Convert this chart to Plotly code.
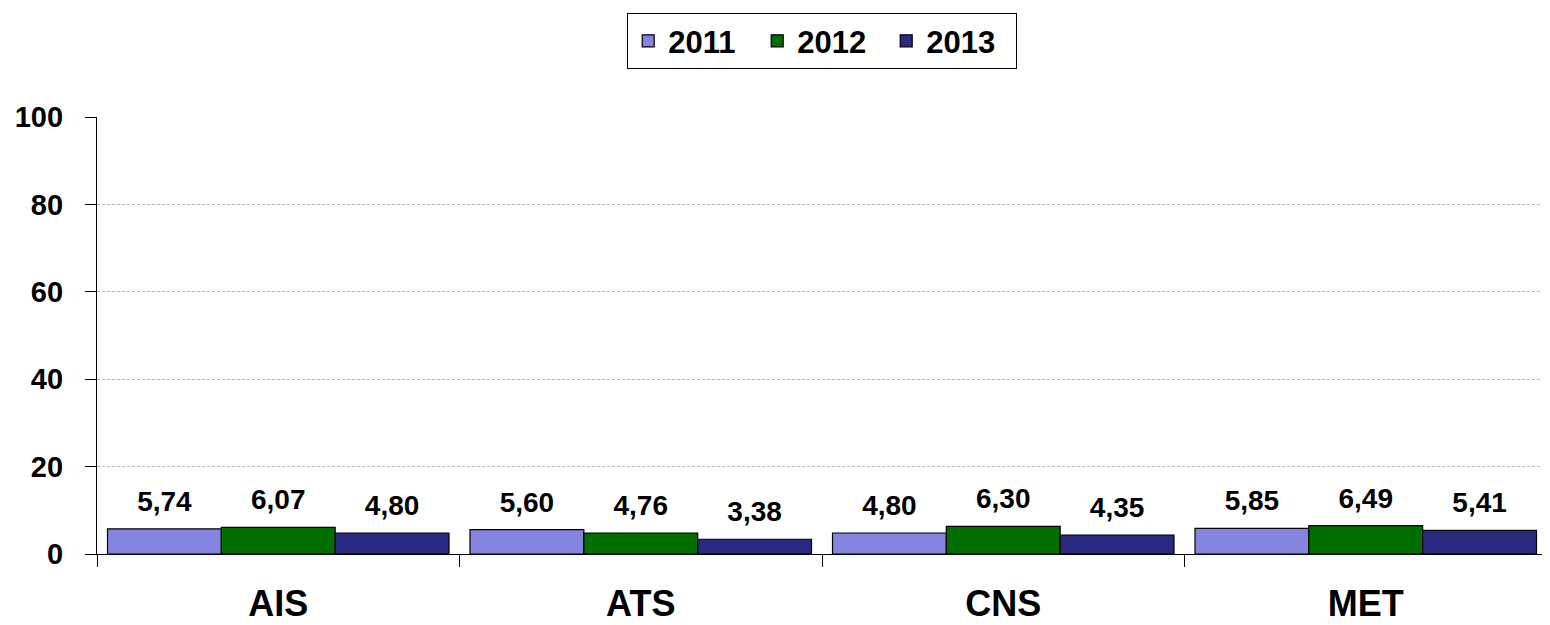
import plotly.graph_objects as go

categories = ["AIS", "ATS", "CNS", "MET"]
years = ["2011", "2012", "2013"]
v2011 = [5.74, 5.60, 4.80, 5.85]
v2012 = [6.07, 4.76, 6.30, 6.49]
v2013 = [4.80, 3.38, 4.35, 5.41]
series = [v2011, v2012, v2013]
colors = ["#8585e0", "#006e00", "#2a2a80"]
y_ticks = [0, 20, 40, 60, 80, 100]

FONT = "Liberation Sans, Arial, sans-serif"

def fmt(v):
    return f"{v:.2f}".replace(".", ",")

fig = go.Figure()
for name, vals, col in zip(years, series, colors):
    fig.add_trace(go.Bar(
        x=categories, y=vals, name=name, offsetgroup=name,
        marker=dict(color=col, line=dict(color="black", width=1.2)),
        hoverinfo="skip",
    ))
for name, vals in zip(years, series):
    fig.add_trace(go.Scatter(
        x=categories, y=vals, offsetgroup=name, mode="markers+text",
        text=[fmt(v) for v in vals], textposition="top center",
        marker=dict(size=16, opacity=0),
        textfont=dict(family=FONT, size=28, color="black", weight="bold"),
        showlegend=False, hoverinfo="skip",
    ))

fig.update_layout(
    width=1542, height=617,
    margin=dict(l=89, r=3, t=109, b=71),
    plot_bgcolor="white", paper_bgcolor="white",
    barmode="group", bargap=0.058, bargroupgap=0,
    scattermode="group", scattergap=0.058,
    font=dict(family=FONT, color="black"),
    legend=dict(
        orientation="h", x=0.5, xanchor="center", y=1.238, yanchor="top",
        font=dict(family=FONT, size=31, color="black", weight="bold"),
        bordercolor="black", borderwidth=1.2, bgcolor="white",
        traceorder="normal", entrywidth=84, entrywidthmode="pixels",
    ),
    showlegend=True,
)
fig.update_xaxes(
    range=[-0.5, 3.5], showline=True, linecolor="black", linewidth=1.2,
    ticks="outside", tickson="boundaries", ticklen=12, tickcolor="black",
    tickfont=dict(family=FONT, size=36, color="black", weight="bold"),
    ticklabelstandoff=18, automargin=False,
    showgrid=False, zeroline=False,
)
fig.update_yaxes(
    range=[0, 100], tickvals=y_ticks, showline=True, linecolor="black", linewidth=1.2,
    ticks="outside", ticklen=11, tickcolor="black",
    tickfont=dict(family=FONT, size=29, color="black", weight="bold"),
    ticklabelstandoff=16, automargin=False,
    showgrid=True, gridcolor="#b8b8b8", griddash="3px,2px", gridwidth=1,
    zeroline=False,
)
fig.write_html("out.html")
